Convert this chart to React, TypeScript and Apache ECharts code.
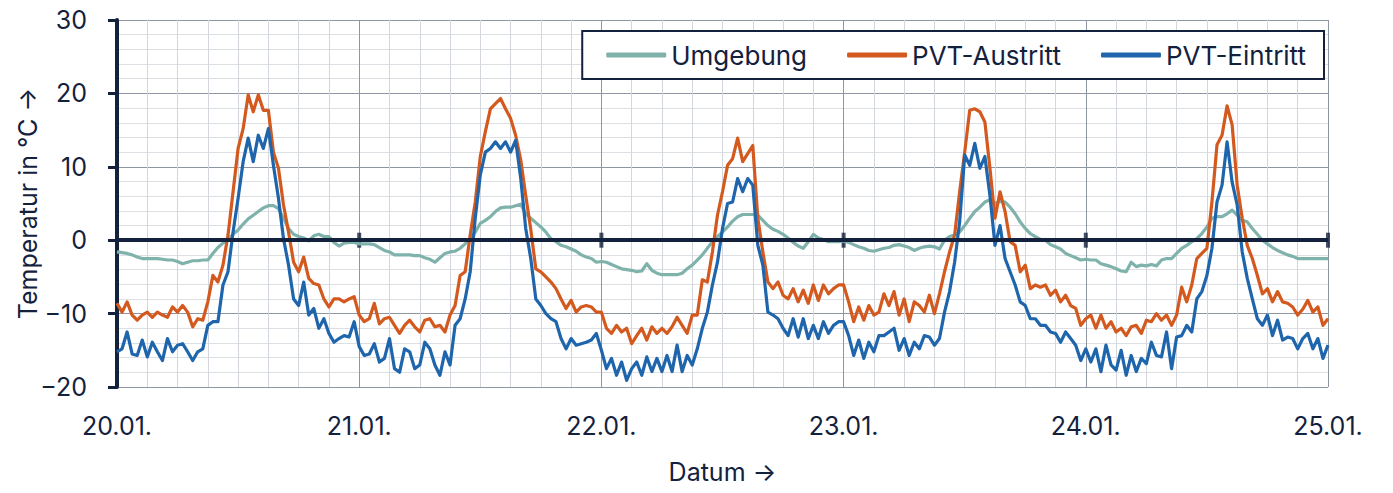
import React, { useEffect, useRef } from 'react';
import * as echarts from 'echarts';

// half-hourly readings, 20.01. 00:00 .. 25.01. 00:00
const dayLabels = ['20.01.', '21.01.', '22.01.', '23.01.', '24.01.', '25.01.'];
const dayTicks = [0, 24, 48, 72, 96, 120];
const stepHours = 0.5;

const umgebung1 = [-1.6, -1.7, -1.8, -2.0, -2.3, -2.5, -2.5, -2.5, -2.5, -2.6, -2.7, -2.7, -2.9, -3.2, -3.0, -2.8, -2.8, -2.7, -2.7, -1.8, -1.0, -0.4, 0.1, 0.8, 1.4, 2.2, 2.9, 3.4, 3.9, 4.4, 4.7, 4.7, 4.3, 3.0, 1.6, 0.8, 0.5, 0.3, -0.1, 0.6, 0.8, 0.5, 0.5, -0.3, -0.8, -0.4, -0.3, -0.3];
const umgebung2 = [-0.5, -0.5, -0.5, -0.6, -1.0, -1.4, -1.6, -2.0, -2.0, -2.0, -2.0, -2.1, -2.1, -2.4, -2.6, -3.0, -2.4, -1.8, -1.6, -1.5, -1.1, -0.5, 0.2, 1.1, 2.3, 2.7, 3.2, 3.9, 4.4, 4.5, 4.5, 4.7, 4.9, 3.6, 3.0, 2.4, 1.8, 1.1, 0.2, -0.2, -0.7, -0.9, -1.2, -1.5, -2.0, -2.3, -2.5, -3.0];
const umgebung3 = [-2.9, -3.0, -3.3, -3.6, -3.9, -4.0, -4.1, -4.3, -4.2, -3.2, -4.1, -4.5, -4.7, -4.7, -4.7, -4.7, -4.5, -3.9, -3.4, -2.7, -2.0, -1.1, -0.2, 0.5, 1.1, 1.8, 2.6, 3.2, 3.5, 3.5, 3.5, 3.4, 2.7, 2.0, 1.5, 1.2, 0.8, 0.3, -0.3, -0.8, -1.1, -0.2, 0.8, 0.3, 0.1, -0.2, -0.2, -0.2];
const umgebung4 = [-0.1, -0.3, -0.6, -0.9, -1.1, -1.4, -1.5, -1.3, -1.1, -1.0, -0.7, -0.6, -0.8, -1.0, -1.4, -1.1, -0.9, -0.8, -0.9, -1.2, 0.0, 0.5, 0.7, 1.1, 2.0, 3.0, 3.9, 4.5, 5.2, 5.5, 5.0, 5.3, 5.2, 4.5, 3.6, 2.5, 1.6, 0.9, 0.5, 0.1, 0.0, -0.6, -0.9, -1.2, -1.8, -2.1, -2.4, -2.7];
const umgebung5 = [-2.6, -2.7, -2.7, -3.2, -3.4, -3.6, -3.9, -4.2, -4.3, -3.0, -3.6, -3.4, -3.5, -3.3, -3.5, -2.7, -2.5, -2.5, -1.8, -1.1, -0.7, -0.2, 0.2, 0.9, 1.8, 3.0, 3.2, 3.2, 3.6, 4.1, 3.4, 2.7, 2.5, 1.6, 0.8, 0.0, -0.5, -1.0, -1.4, -1.7, -2.0, -2.2, -2.5, -2.5, -2.5, -2.5, -2.5, -2.5, -2.5];

const austritt1 = [-8.6, -9.8, -8.4, -10.2, -10.9, -10.2, -9.8, -10.5, -9.8, -10.2, -10.5, -9.1, -9.8, -8.9, -9.8, -11.8, -10.7, -10.9, -8.4, -4.8, -5.7, -3.4, 0.7, 6.6, 12.5, 15.2, 19.8, 17.5, 19.8, 17.7, 17.7, 12.0, 9.8, 4.8, 1.1, -3.0, -4.3, -2.3, -5.2, -5.9, -6.1, -8.0, -9.1, -8.0, -8.0, -8.4, -8.0, -7.7];
const austritt2 = [-10.2, -11.1, -10.7, -8.6, -11.4, -10.7, -10.5, -11.6, -12.7, -11.6, -10.9, -11.8, -12.5, -10.9, -10.7, -11.8, -11.6, -12.5, -10.2, -8.9, -4.8, -4.3, 0.7, 5.2, 11.4, 14.8, 17.9, 18.6, 19.3, 17.9, 16.6, 14.3, 11.0, 6.1, 1.5, -3.9, -4.3, -5.0, -5.7, -6.6, -8.0, -9.3, -8.2, -9.8, -9.1, -8.9, -9.1, -9.8];
const austritt3 = [-9.8, -12.0, -12.7, -11.6, -12.5, -12.0, -14.1, -13.0, -12.0, -13.6, -11.8, -12.7, -12.0, -12.7, -11.8, -10.5, -11.6, -12.7, -10.2, -10.2, -5.4, -5.7, -1.6, 3.4, 6.6, 10.2, 11.1, 13.9, 10.7, 11.8, 12.9, 3.0, -1.6, -5.7, -6.6, -5.7, -7.5, -8.0, -6.6, -8.4, -6.8, -8.6, -6.1, -8.2, -6.1, -7.3, -6.6, -6.1];
const austritt4 = [-6.1, -8.4, -11.1, -9.1, -10.9, -8.9, -10.2, -9.8, -7.3, -8.9, -7.0, -10.2, -8.0, -11.1, -8.4, -8.9, -9.8, -7.5, -10.0, -7.3, -4.3, -1.6, 0.7, 6.6, 12.0, 17.7, 17.9, 17.5, 16.1, 9.8, 3.0, 6.6, 3.9, -0.2, -0.7, -4.3, -3.4, -6.6, -6.1, -6.4, -6.1, -7.5, -6.8, -8.4, -7.5, -8.9, -9.3, -11.6];
const austritt5 = [-10.7, -10.2, -12.0, -10.2, -12.0, -11.1, -12.5, -12.0, -13.0, -11.8, -11.6, -12.7, -10.9, -11.1, -10.0, -10.9, -10.2, -11.6, -10.2, -6.4, -8.4, -6.1, -2.5, -1.8, -1.1, 5.2, 13.0, 14.3, 18.3, 15.7, 7.5, 3.0, -0.7, -2.5, -4.8, -7.3, -6.6, -8.4, -7.0, -8.4, -8.6, -9.1, -10.2, -9.4, -8.2, -9.8, -9.1, -11.6, -10.7];

const eintritt1 = [-15.2, -14.8, -12.5, -15.5, -15.7, -13.6, -15.9, -13.9, -15.2, -16.4, -13.4, -15.2, -14.3, -14.1, -15.2, -16.4, -15.2, -14.8, -11.6, -11.1, -11.1, -6.1, -4.3, 1.1, 5.7, 10.7, 13.9, 10.7, 14.3, 12.5, 15.2, 10.2, 5.7, 0.2, -3.4, -8.0, -8.9, -5.7, -10.2, -9.3, -12.0, -10.7, -12.7, -13.9, -13.4, -13.0, -13.2, -11.1];
const eintritt2 = [-14.5, -15.7, -15.5, -14.1, -16.6, -16.1, -13.4, -17.5, -18.0, -14.8, -15.2, -17.5, -17.0, -13.9, -14.8, -17.0, -18.4, -15.2, -17.0, -11.6, -10.7, -8.0, -4.3, 3.0, 8.9, 12.0, 12.5, 13.4, 12.5, 13.4, 12.0, 13.6, 8.5, 1.6, -2.5, -8.0, -8.9, -10.0, -10.7, -11.1, -13.4, -14.8, -13.4, -14.3, -14.1, -13.9, -13.6, -12.7];
const eintritt3 = [-15.0, -17.5, -16.1, -18.4, -16.6, -19.1, -17.5, -16.6, -18.4, -15.9, -17.9, -16.1, -17.9, -15.7, -17.9, -14.3, -17.9, -15.7, -17.0, -14.8, -12.0, -9.8, -6.1, -3.0, 1.6, 5.0, 5.2, 8.4, 6.6, 8.4, 7.5, -0.7, -3.4, -9.8, -10.2, -10.7, -12.0, -13.0, -10.7, -13.2, -10.7, -13.4, -11.6, -13.4, -11.1, -12.7, -11.6, -11.1];
const eintritt4 = [-11.1, -13.0, -15.7, -13.6, -16.1, -13.9, -15.2, -13.0, -13.0, -12.5, -12.0, -15.0, -13.4, -15.7, -13.9, -14.8, -13.0, -13.2, -14.3, -13.4, -9.8, -7.0, -3.0, 2.5, 11.6, 10.2, 13.2, 9.8, 11.4, 6.1, -0.7, 2.0, -2.5, -4.3, -6.1, -8.4, -8.9, -10.7, -10.7, -11.6, -11.6, -12.5, -12.7, -13.9, -12.5, -13.4, -14.3, -16.4];
const eintritt5 = [-14.8, -16.6, -14.8, -17.9, -14.3, -17.0, -17.7, -15.0, -18.4, -15.7, -17.9, -16.1, -16.8, -13.9, -15.7, -15.9, -12.5, -17.5, -13.2, -13.0, -11.6, -12.5, -8.0, -7.0, -4.8, -1.1, 5.2, 7.5, 13.4, 7.9, 4.8, -1.6, -5.2, -8.0, -10.7, -11.6, -10.2, -13.0, -10.9, -13.6, -13.2, -13.4, -14.8, -13.4, -12.7, -14.8, -13.4, -16.1, -14.3];

const umgebung = [...umgebung1, ...umgebung2, ...umgebung3, ...umgebung4, ...umgebung5];
const austritt = [...austritt1, ...austritt2, ...austritt3, ...austritt4, ...austritt5];
const eintritt = [...eintritt1, ...eintritt2, ...eintritt3, ...eintritt4, ...eintritt5];

const navy = '#14213d';
const font = 'Inter, "Noto Sans", sans-serif';

const toPoints = (values: number[]) => values.map((v, i) => [i * stepHours, v]);

const App: React.FC = () => {
  const chartRef = useRef<HTMLDivElement>(null);

  useEffect(() => {
    if (!chartRef.current) return;
    const chart = echarts.init(chartRef.current, undefined, { renderer: 'svg' });

    const lineSeries = (name: string, values: number[], color: string) => ({
      name,
      type: 'line',
      data: toPoints(values),
      showSymbol: false,
      symbol: 'none',
      z: 3,
      lineStyle: { color, width: 3.2, join: 'round' },
      itemStyle: { color },
    });

    chart.setOption({
      animation: false,
      textStyle: { fontFamily: font, color: navy },
      grid: { left: 117, right: 65, top: 20, bottom: 106, outerBoundsMode: 'none', containLabel: false },
      legend: {
        data: ['Umgebung', 'PVT-Austritt', 'PVT-Eintritt'],
        right: 69,
        top: 31,
        icon: 'roundRect',
        itemWidth: 60,
        itemHeight: 5,
        itemGap: 40,
        padding: [11, 18, 11, 24],
        backgroundColor: '#ffffff',
        borderColor: navy,
        borderWidth: 2,
        borderRadius: 0,
        textStyle: { fontFamily: font, fontSize: 26, color: navy },
      },
      xAxis: {
        type: 'value',
        min: 0,
        max: 120,
        interval: 24,
        name: 'Datum →',
        nameLocation: 'middle',
        nameGap: 72,
        nameTextStyle: { fontFamily: font, fontSize: 25, color: navy },
        axisLine: { show: false, onZero: false },
        axisTick: { show: false },
        axisLabel: {
          margin: 28,
          fontFamily: font,
          fontSize: 25,
          lineHeight: 22,
          color: navy,
          formatter: (v: number) => dayLabels[Math.round(v / 24)] ?? '',
        },
        splitLine: { show: true, lineStyle: { color: '#8f96a3', width: 1 } },
        minorTick: { show: false, splitNumber: 8 },
        minorSplitLine: { show: true, lineStyle: { color: '#d3d6dc', width: 1 } },
      },
      yAxis: {
        type: 'value',
        min: -20,
        max: 30,
        interval: 10,
        name: 'Temperatur in °C →',
        nameLocation: 'middle',
        nameRotate: 90,
        nameGap: 77,
        nameMoveOverlap: false,
        nameTextStyle: { fontFamily: font, fontSize: 25, color: navy },
        axisLine: { show: true, lineStyle: { color: navy, width: 4 } },
        axisTick: { show: true, length: 9, lineStyle: { color: navy, width: 3 } },
        axisLabel: {
          margin: 30,
          fontFamily: font,
          fontSize: 25,
          lineHeight: 22,
          color: navy,
          formatter: (v: number) => String(v).replace('-', '−'),
        },
        splitLine: { show: true, lineStyle: { color: '#8f96a3', width: 1 } },
        minorTick: { show: false, splitNumber: 5 },
        minorSplitLine: { show: true, lineStyle: { color: '#dcdfe4', width: 1 } },
      },
      series: [
        {
          name: 'zero',
          type: 'scatter',
          data: dayTicks.map((d) => [d, 0]),
          symbol: 'rect',
          symbolSize: [4, 15],
          itemStyle: { color: navy },
          silent: true,
          z: 2,
          markLine: {
            silent: true,
            symbol: ['none', 'none'],
            label: { show: false },
            lineStyle: { color: navy, width: 4, type: 'solid' },
            data: [{ yAxis: 0 }],
          },
        },
        lineSeries('Umgebung', umgebung, '#80b2ac'),
        lineSeries('PVT-Austritt', austritt, '#d3591f'),
        lineSeries('PVT-Eintritt', eintritt, '#1e65ac'),
      ],
    });

    return () => {
      chart.dispose();
    };
  }, []);

  return <div ref={chartRef} style={{ width: '1393px', height: '493px', margin: '-8px' }} />;
};

export default App;
